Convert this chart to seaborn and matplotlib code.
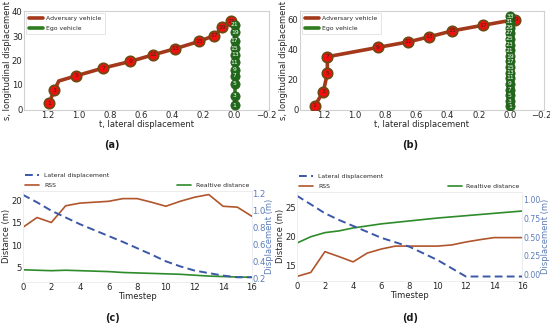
import numpy as np
import pandas as pd
import matplotlib
matplotlib.use("Agg")
import matplotlib.pyplot as plt
import matplotlib.transforms as mtrans
import seaborn as sns

sns.set_style("white")
plt.rcParams['font.family'] = ['DejaVu Sans']

# ---------------- data: (a) ----------------
a_adv_t = [1.19, 1.155, 1.017, 0.843, 0.67, 0.524, 0.383, 0.23, 0.132, 0.078, 0.024]
a_adv_s = [2.5, 7.9, 13.7, 16.9, 19.6, 22.3, 24.8, 27.8, 30.2, 33.6, 36.0]
a_adv_lbl = [1, 3, 5, 7, 9, 11, 13, 15, 17, 19, 21]
a_path_t = [1.19, 1.155, 1.127, 1.017, 0.843, 0.67, 0.524, 0.383, 0.23, 0.132, 0.078, 0.024]
a_path_s = [2.5, 7.9, 11.6, 13.7, 16.9, 19.6, 22.3, 24.8, 27.8, 30.2, 33.6, 36.0]
a_ego_s = [1.6, 5.5, 10.4, 13.7, 16.2, 19.2, 22.3, 25.1, 28.2, 31.5, 34.6]
a_ego_lbl = [1, 3, 5, 7, 9, 11, 13, 15, 17, 19, 21]

# ---------------- data: (b) ----------------
b_adv_t = [1.256, 1.2, 1.174, 1.174, 0.85, 0.653, 0.518, 0.369, 0.172, -0.033]
b_adv_s = [2.2, 11.7, 23.9, 35.0, 41.2, 44.9, 48.3, 52.3, 56.0, 59.8]
b_adv_lbl = [1, 3, 5, 7, 9, 11, 13, 15, 17, 19]
b_ego_s = [2, 5.5, 9.5, 13, 17, 21, 24.5, 28, 32, 35.5, 39.5, 43, 47, 51, 54.5, 58.5, 62]
b_ego_lbl = [1, 3, 5, 7, 9, 11, 13, 15, 17, 19, 21, 23, 25, 27, 29, 31, 33]

# ---------------- data: (c) ----------------
timesteps = list(range(17))
c_rss = [14.0, 16.2, 15.1, 18.8, 19.4, 19.6, 19.8, 20.4, 20.4, 19.6, 18.7, 19.8, 20.7, 21.3, 18.7, 18.5, 16.5]
c_rel = [4.6, 4.5, 4.4, 4.5, 4.4, 4.3, 4.2, 4.0, 3.9, 3.8, 3.7, 3.6, 3.4, 3.2, 3.1, 3.0, 2.95]
c_lat = [1.19, 1.10, 1.0, 0.92, 0.84, 0.77, 0.70, 0.63, 0.555, 0.48, 0.40, 0.34, 0.29, 0.26, 0.23, 0.21, 0.21]

# ---------------- data: (d) ----------------
d_rss = [13.2, 13.9, 17.45, 16.6, 15.7, 17.2, 17.9, 18.4, 18.4, 18.4, 18.4, 18.6, 19.1, 19.5, 19.85, 19.85, 19.85]
d_rel = [18.9, 20.0, 20.7, 21.0, 21.5, 21.85, 22.2, 22.45, 22.7, 22.95, 23.2, 23.4, 23.6, 23.8, 24.0, 24.2, 24.4]
d_lat = [1.057, 0.94, 0.82, 0.73, 0.65, 0.57, 0.49, 0.43, 0.37, 0.28, 0.19, 0.08, -0.03, -0.03, -0.03, -0.03, -0.03]

xt_top = [1.2, 1.0, 0.8, 0.6, 0.4, 0.2, 0.0, -0.2]

W, H = 550, 328
fig = plt.figure(figsize=(W / 100, H / 100), dpi=100)


def frac(x0, y0, x1, y1):
    return [x0 / W, 1 - y1 / H, (x1 - x0) / W, (y1 - y0) / H]


def place_ylabel(ax, xpx):
    tr = mtrans.blended_transform_factory(fig.transFigure, ax.transAxes)
    ax.yaxis.set_label_coords(xpx / W, 0.5, transform=tr)


ADV_LINE = '#a3381a'
ADV_FACE = '#f01010'
ADV_EDGE = '#6e4a12'
EGO_LINE = '#2f7d1f'
EGO_FACE = '#1f6a1a'
SPINE = '0.82'
TXT = '0.15'
TICK_FS = 6.1
LAB_FS = 6.0
LEG_FS = 4.4


def traj_plot(ax, path_t, path_s, adv_t, adv_s, adv_lbl, ego_s, ego_lbl, ylim, yticks, ylab_x):
    sns.lineplot(x=path_t, y=path_s, sort=False, estimator=None, ax=ax,
                 color=ADV_LINE, lw=2.6, label='Adversary vehicle', zorder=2)
    sns.lineplot(x=[0.0] * len(ego_s), y=ego_s, sort=False, estimator=None, ax=ax,
                 color=EGO_LINE, lw=2.6, label='Ego vehicle', zorder=2)
    ax.plot(adv_t, adv_s, ls='none', marker='o', ms=7.4, mfc=ADV_FACE,
            mec=ADV_EDGE, mew=1.3, zorder=3)
    ax.plot([0.0] * len(ego_s), ego_s, ls='none', marker='o', ms=6.6,
            mfc=EGO_FACE, mec='#2a5a1a', mew=0.6, zorder=4)
    for t, s, l in zip(adv_t, adv_s, adv_lbl):
        ax.text(t, s, str(l), fontsize=4.3, color='#3a2a10', ha='center', va='center', zorder=5)
    for s, l in zip(ego_s, ego_lbl):
        ax.text(0.0, s, str(l), fontsize=4.3, color='white', ha='center', va='center', zorder=6)
    ax.set_xlim(1.35, -0.22)
    ax.set_ylim(*ylim)
    ax.set_xticks(xt_top)
    ax.set_yticks(yticks)
    ax.tick_params(labelsize=TICK_FS, colors=TXT, pad=1.0, length=0)
    ax.set_xlabel('t, lateral displacement', fontsize=LAB_FS, color=TXT, labelpad=0.0)
    ax.set_ylabel('s, longitudinal displacement', fontsize=LAB_FS, color=TXT)
    place_ylabel(ax, ylab_x)
    for sp in ax.spines.values():
        sp.set_color(SPINE)
        sp.set_linewidth(0.8)
    leg = ax.legend(loc='upper left', fontsize=LEG_FS, frameon=True, handlelength=2.2,
                    borderpad=0.55, labelspacing=0.7, borderaxespad=0.3, handletextpad=0.6)
    leg.get_frame().set_edgecolor('0.85')
    leg.get_frame().set_linewidth(0.6)
    for h in leg.get_lines():
        h.set_linewidth(2.6)


ax_a = fig.add_axes(frac(24, 11, 269, 110))
traj_plot(ax_a, a_path_t, a_path_s, a_adv_t, a_adv_s, a_adv_lbl, a_ego_s, a_ego_lbl,
          (-0.3, 40.3), [0, 10, 20, 30, 40], 12.5)

ax_b = fig.add_axes(frac(300, 11, 544, 110))
traj_plot(ax_b, b_adv_t, b_adv_s, b_adv_t, b_adv_s, b_adv_lbl, b_ego_s, b_ego_lbl,
          (-0.5, 65.5), [0, 20, 40, 60], 288)

RSS_C = '#b0552c'
REL_C = '#2e8b2a'
LAT_C = '#3b57a8'
RAX_C = '#5a7cb8'


def dist_plot(box, rss, rel, lat, ylim, ylim2, yticks, y2ticks, y2fmt, ylx, y2lx, y2fs):
    ax = fig.add_axes(box)
    ax2 = ax.twinx()
    sns.lineplot(x=timesteps, y=rss, ax=ax, color=RSS_C, lw=1.2, label='RSS')
    sns.lineplot(x=timesteps, y=rel, ax=ax, color=REL_C, lw=1.2, label='Realtive distance')
    sns.lineplot(x=timesteps, y=lat, ax=ax2, color=LAT_C, lw=1.4,
                 label='Lateral displacement')
    ax2.lines[0].set_dashes([4, 2.2])
    ax.set_xlim(0, 16)
    ax.set_ylim(*ylim)
    ax2.set_ylim(*ylim2)
    ax.set_xticks(range(0, 17, 2))
    ax.set_yticks(yticks)
    ax2.set_yticks(y2ticks)
    ax2.set_yticklabels([y2fmt.format(v) for v in y2ticks])
    ax.tick_params(labelsize=TICK_FS, colors=TXT, length=0)
    ax.tick_params(axis='y', pad=0.6)
    ax.tick_params(axis='x', pad=1.0)
    ax2.tick_params(labelsize=y2fs, colors=RAX_C, pad=0.6, length=0)
    ax.set_xlabel('Timestep', fontsize=LAB_FS, color=TXT, labelpad=0.0)
    ax.set_ylabel('Distance (m)', fontsize=LAB_FS, color=TXT)
    ax2.set_ylabel('Displacement (m)', fontsize=LAB_FS, color=RAX_C)
    place_ylabel(ax, ylx)
    place_ylabel(ax2, y2lx)
    for a in (ax, ax2):
        for sp in a.spines.values():
            sp.set_color('0.93')
            sp.set_linewidth(0.6)
    ax.legend(bbox_to_anchor=(0., 1.0, 1., 0.1), loc='lower left', ncol=2,
              mode='expand', borderaxespad=0., fontsize=LEG_FS, frameon=False,
              handlelength=2.3)
    ax2.legend(bbox_to_anchor=(0., 1.11), loc='lower left', borderaxespad=0.,
               fontsize=LEG_FS, frameon=False, handlelength=2.3)
    return ax, ax2


dist_plot(frac(22.7, 190.5, 251.7, 281.5), c_rss, c_rel, c_lat,
          (2.0, 22.2), (0.16, 1.24), [5, 10, 15, 20], [0.2, 0.4, 0.6, 0.8, 1.0, 1.2], '{:.1f}',
          11.5, 265.5, TICK_FS)
dist_plot(frac(296.7, 191.7, 522.3, 280.6), d_rss, d_rel, d_lat,
          (12.5, 27.7), (-0.085, 1.11), [15, 20, 25], [0.0, 0.25, 0.5, 0.75, 1.0], '{:.2f}',
          285.0, 540.5, 5.6)

for x, y, s in [(112, 145, '(a)'), (410, 145, '(b)'), (112, 318, '(c)'), (410, 318, '(d)')]:
    fig.text(x / W, 1 - y / H, s, fontsize=7, fontweight='bold', ha='center', va='center',
             color='0.1')

fig.savefig('out.png', dpi=100)
